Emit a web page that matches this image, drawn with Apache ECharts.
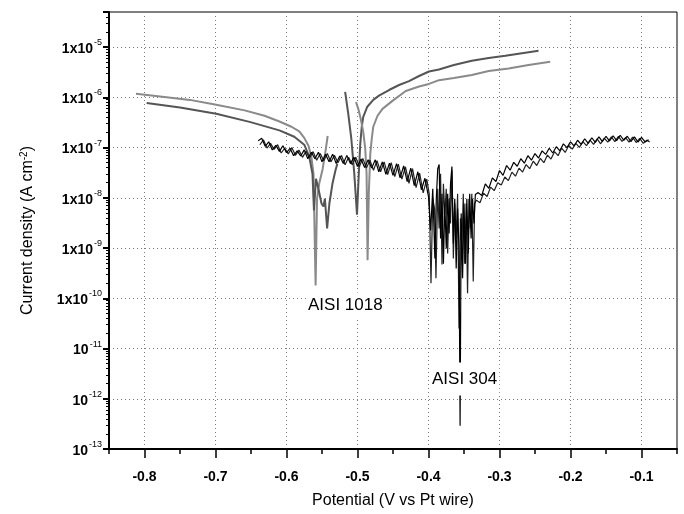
<!DOCTYPE html>
<html>
<head>
<meta charset="utf-8">
<script src="https://cdn.jsdelivr.net/npm/echarts@6/dist/echarts.min.js"></script>
<style>
  html, body { margin: 0; padding: 0; background: #fff; }
  #main { width: 684px; height: 514px; }
</style>
</head>
<body>
<div id="main"></div>
<script>
// tick positions on the potential axis
const xMajorTicks = [-0.8, -0.7, -0.6, -0.5, -0.4, -0.3, -0.2, -0.1];
const xMinorTicks = [-0.85, -0.75, -0.65, -0.55, -0.45, -0.35, -0.25, -0.15, -0.05];

// current density axis: decades shown, top of the frame
const yDecades = [-13, -12, -11, -10, -9, -8, -7, -6, -5];
const yTop = 5e-5;

const sampleNames = ['AISI 1018', 'AISI 304'];

// AISI 1018, cathodic branches  [V, A cm^-2]
const c1018UpperCath = [
  [-0.812, 1.18e-6], [-0.778, 1.04e-6], [-0.736, 8.9e-7], [-0.699, 7.1e-7], [-0.659, 5.5e-7],
  [-0.631, 4.3e-7], [-0.610, 3.3e-7], [-0.593, 2.6e-7], [-0.582, 2.1e-7], [-0.575, 1.56e-7],
  [-0.569, 1.09e-7], [-0.565, 6.6e-8], [-0.562, 3.0e-8], [-0.559, 1.8e-10], [-0.557, 9.6e-9],
  [-0.554, 1.9e-8], [-0.549, 3.8e-8], [-0.545, 8.6e-8], [-0.542, 1.7e-7]
];
const c1018LowerCath = [
  [-0.797, 7.7e-7], [-0.750, 6.3e-7], [-0.699, 4.7e-7], [-0.652, 3.25e-7], [-0.610, 2.2e-7],
  [-0.589, 1.64e-7], [-0.575, 1.14e-7], [-0.568, 6.6e-8], [-0.5634, 3.0e-8], [-0.5613, 5.6e-9],
  [-0.5585, 2.4e-8], [-0.555, 1.5e-8], [-0.5507, 7.7e-9], [-0.548, 6.7e-9], [-0.5459, 9.6e-9],
  [-0.5428, 2.45e-9], [-0.5396, 7.7e-9], [-0.5353, 1.9e-8], [-0.5311, 3.5e-8], [-0.5283, 4.8e-8]
];

// AISI 1018, anodic branches
const c1018UpperAnod = [
  [-0.5174, 1.28e-6], [-0.513, 4.7e-7], [-0.5087, 1.5e-7], [-0.5045, 3.0e-8], [-0.5007, 4.6e-9],
  [-0.4982, 3.0e-8], [-0.4961, 1.19e-7], [-0.494, 2.6e-7], [-0.4919, 4.1e-7], [-0.4862, 6.5e-7],
  [-0.4778, 8.9e-7], [-0.4697, 1.08e-6], [-0.4556, 1.4e-6], [-0.4414, 1.76e-6], [-0.4274, 2.1e-6],
  [-0.4133, 2.66e-6], [-0.3993, 3.27e-6], [-0.3853, 3.58e-6], [-0.3642, 4.4e-6], [-0.339, 5.35e-6],
  [-0.3152, 6.05e-6], [-0.2917, 6.7e-6], [-0.2731, 7.4e-6], [-0.245, 8.45e-6]
];
const c1018LowerAnod = [
  [-0.5021, 8.1e-7], [-0.4989, 5.9e-7], [-0.4954, 3.7e-7], [-0.4919, 2.06e-7], [-0.4891, 9.5e-8],
  [-0.4872, 3.0e-8], [-0.4858, 5.75e-10], [-0.4841, 1.2e-8], [-0.482, 7.5e-8], [-0.4799, 1.5e-7],
  [-0.4778, 2.6e-7], [-0.4718, 4.3e-7], [-0.4648, 5.9e-7], [-0.4508, 8.5e-7], [-0.432, 1.34e-6],
  [-0.4133, 1.64e-6], [-0.3993, 1.85e-6], [-0.3853, 2.2e-6], [-0.3642, 2.43e-6], [-0.339, 2.78e-6],
  [-0.3152, 3.34e-6], [-0.2871, 3.74e-6], [-0.2591, 4.4e-6], [-0.2286, 5.1e-6]
];

// AISI 304, first scan
const c304ScanA = [
  [-0.640, 1.36e-7], [-0.635, 1.53e-7], [-0.630, 1.06e-7], [-0.625, 1.30e-7], [-0.620, 9.0e-8],
  [-0.615, 1.11e-7], [-0.610, 8.4e-8], [-0.605, 1.09e-7], [-0.600, 7.9e-8], [-0.595, 9.7e-8],
  [-0.590, 6.9e-8], [-0.585, 8.6e-8], [-0.580, 6.8e-8], [-0.575, 9.0e-8], [-0.570, 6.0e-8],
  [-0.565, 8.1e-8], [-0.560, 6.0e-8], [-0.555, 8.1e-8], [-0.550, 5.2e-8], [-0.545, 7.4e-8],
  [-0.540, 5.2e-8], [-0.535, 7.4e-8], [-0.530, 4.8e-8], [-0.525, 6.8e-8], [-0.520, 4.8e-8],
  [-0.515, 7.0e-8], [-0.510, 4.8e-8], [-0.505, 6.4e-8], [-0.500, 4.2e-8], [-0.495, 5.9e-8],
  [-0.490, 4.0e-8], [-0.485, 5.7e-8], [-0.480, 3.9e-8], [-0.475, 5.7e-8], [-0.470, 3.3e-8],
  [-0.465, 5.2e-8], [-0.460, 2.95e-8], [-0.455, 4.9e-8], [-0.450, 2.8e-8], [-0.445, 4.8e-8],
  [-0.440, 2.5e-8], [-0.435, 4.3e-8], [-0.430, 2.1e-8], [-0.425, 3.9e-8], [-0.420, 1.75e-8],
  [-0.415, 3.3e-8], [-0.410, 1.45e-8], [-0.405, 2.45e-8], [-0.400, 1.06e-8],
  [-0.397, 2.24e-9], [-0.394, 1.52e-8], [-0.391, 6.2e-10], [-0.389, 9.6e-9], [-0.387, 3.8e-8],
  [-0.385, 4.6e-8], [-0.383, 1.55e-9], [-0.381, 1.2e-8], [-0.379, 4.9e-10], [-0.377, 7.7e-9],
  [-0.375, 9.8e-10], [-0.373, 1.2e-8], [-0.371, 1.95e-9], [-0.369, 1.9e-8], [-0.367, 4.2e-8],
  [-0.365, 1.23e-9], [-0.363, 9.6e-9], [-0.361, 3.9e-10], [-0.359, 6.1e-9], [-0.357, 9.8e-10],
  [-0.3555, 2.9e-13], [-0.354, 4.9e-9], [-0.352, 2.5e-10], [-0.350, 7.7e-9], [-0.348, 4.9e-10],
  [-0.346, 9.6e-9], [-0.344, 7.8e-10], [-0.342, 1.2e-8], [-0.340, 1.55e-9], [-0.338, 9.6e-9],
  [-0.336, 3.1e-9], [-0.334, 1.16e-8],
  [-0.330, 1.27e-8], [-0.325, 1.11e-8], [-0.320, 1.9e-8], [-0.315, 1.55e-8], [-0.310, 2.5e-8],
  [-0.305, 2.1e-8], [-0.300, 3.5e-8], [-0.295, 2.8e-8], [-0.290, 4.4e-8], [-0.285, 3.55e-8],
  [-0.280, 5.1e-8], [-0.275, 4.25e-8], [-0.270, 6.0e-8], [-0.265, 4.9e-8], [-0.260, 6.9e-8],
  [-0.255, 5.6e-8], [-0.250, 7.6e-8], [-0.245, 6.2e-8], [-0.240, 8.6e-8], [-0.235, 7.3e-8],
  [-0.230, 9.7e-8], [-0.225, 7.8e-8], [-0.220, 1.04e-7], [-0.215, 8.6e-8], [-0.210, 1.19e-7],
  [-0.205, 1.0e-7], [-0.200, 1.30e-7], [-0.195, 1.08e-7], [-0.190, 1.40e-7], [-0.185, 1.16e-7],
  [-0.180, 1.50e-7], [-0.175, 1.21e-7], [-0.170, 1.57e-7], [-0.165, 1.27e-7], [-0.160, 1.64e-7],
  [-0.155, 1.32e-7], [-0.150, 1.68e-7], [-0.145, 1.35e-7], [-0.140, 1.72e-7], [-0.135, 1.38e-7],
  [-0.130, 1.76e-7], [-0.125, 1.40e-7], [-0.120, 1.68e-7], [-0.115, 1.32e-7], [-0.110, 1.64e-7],
  [-0.105, 1.29e-7], [-0.100, 1.60e-7], [-0.095, 1.30e-7], [-0.090, 1.43e-7]
];

// AISI 304, second scan
const c304ScanB = [
  [-0.6375, 1.14e-7], [-0.6325, 1.43e-7], [-0.6275, 9.8e-8], [-0.6225, 1.21e-7], [-0.6175, 9.2e-8],
  [-0.6125, 1.14e-7], [-0.6075, 7.8e-8], [-0.6025, 9.7e-8], [-0.5975, 7.5e-8], [-0.5925, 1.0e-7],
  [-0.5875, 7.0e-8], [-0.5825, 8.9e-8], [-0.5775, 6.4e-8], [-0.5725, 8.4e-8], [-0.5675, 6.2e-8],
  [-0.5625, 8.3e-8], [-0.5575, 5.6e-8], [-0.5525, 7.6e-8], [-0.5475, 5.45e-8], [-0.5425, 7.6e-8],
  [-0.5375, 5.2e-8], [-0.5325, 7.0e-8], [-0.5275, 5.0e-8], [-0.5225, 7.0e-8], [-0.5175, 4.55e-8],
  [-0.5125, 6.4e-8], [-0.5075, 4.55e-8], [-0.5025, 6.4e-8], [-0.4975, 4.15e-8], [-0.4925, 6.1e-8],
  [-0.4875, 3.9e-8], [-0.4825, 5.6e-8], [-0.4775, 3.55e-8], [-0.4725, 5.5e-8], [-0.4675, 3.3e-8],
  [-0.4625, 5.2e-8], [-0.4575, 2.9e-8], [-0.4525, 5.0e-8], [-0.4475, 2.65e-8], [-0.4425, 4.7e-8],
  [-0.4375, 2.35e-8], [-0.4325, 4.15e-8], [-0.4275, 1.95e-8], [-0.4225, 3.8e-8], [-0.4175, 1.6e-8],
  [-0.4125, 3.1e-8], [-0.4075, 1.26e-8], [-0.4025, 2.35e-8],
  [-0.399, 1.2e-8], [-0.3965, 2.0e-10], [-0.394, 9.6e-9], [-0.3915, 6.1e-9], [-0.3895, 2.5e-10],
  [-0.387, 1.52e-8], [-0.385, 2.45e-9], [-0.383, 3.0e-8], [-0.381, 4.7e-10], [-0.379, 1.9e-8],
  [-0.377, 4.9e-9], [-0.375, 1.52e-8], [-0.373, 7.8e-10], [-0.371, 9.6e-9], [-0.369, 3.1e-9],
  [-0.367, 3.5e-8], [-0.365, 6.2e-10], [-0.363, 7.7e-9], [-0.361, 1.55e-9], [-0.359, 1.2e-8],
  [-0.357, 2.5e-11], [-0.355, 3.9e-9], [-0.353, 9.8e-10], [-0.351, 1.2e-8], [-0.349, 4.9e-10],
  [-0.347, 7.7e-9], [-0.345, 1.26e-10], [-0.343, 9.6e-9], [-0.341, 2.45e-9], [-0.339, 1.2e-8],
  [-0.337, 2.17e-10], [-0.335, 7.7e-9],
  [-0.3325, 9.0e-9], [-0.3275, 8.0e-9], [-0.3225, 1.24e-8], [-0.3175, 1.06e-8], [-0.3125, 1.63e-8],
  [-0.3075, 1.39e-8], [-0.3025, 2.0e-8], [-0.2975, 1.8e-8], [-0.2925, 2.6e-8], [-0.2875, 2.2e-8],
  [-0.2825, 3.25e-8], [-0.2775, 2.7e-8], [-0.2725, 3.9e-8], [-0.2675, 3.25e-8], [-0.2625, 4.6e-8],
  [-0.2575, 3.8e-8], [-0.2525, 5.35e-8], [-0.2475, 4.4e-8], [-0.2425, 6.1e-8], [-0.2375, 5.0e-8],
  [-0.2325, 7.1e-8], [-0.2275, 5.9e-8], [-0.2225, 8.3e-8], [-0.2175, 6.9e-8], [-0.2125, 9.8e-8],
  [-0.2075, 8.0e-8], [-0.2025, 1.10e-7], [-0.1975, 9.3e-8], [-0.1925, 1.21e-7], [-0.1875, 1.01e-7],
  [-0.1825, 1.31e-7], [-0.1775, 1.09e-7], [-0.1725, 1.41e-7], [-0.1675, 1.16e-7], [-0.1625, 1.49e-7],
  [-0.1575, 1.19e-7], [-0.1525, 1.54e-7], [-0.1475, 1.28e-7], [-0.1425, 1.63e-7], [-0.1375, 1.31e-7],
  [-0.1325, 1.67e-7], [-0.1275, 1.33e-7], [-0.1225, 1.58e-7], [-0.1175, 1.29e-7], [-0.1125, 1.61e-7],
  [-0.1075, 1.26e-7], [-0.1025, 1.52e-7], [-0.0975, 1.21e-7], [-0.0925, 1.40e-7], [-0.0885, 1.30e-7]
];

const FONT = '"Liberation Sans", Arial, Helvetica, sans-serif';

// minor tick positions (2..9 in every decade), in log10 units for the overlay axis
const yMinorTicks = [];
yDecades.forEach(d => {
  for (let k = 2; k <= 9; k++) {
    const t = d + Math.log10(k);
    if (t < Math.log10(yTop)) yMinorTicks.push(t);
  }
});

function yLabel(value) {
  const lg = Math.log10(value);
  const e = Math.round(lg);
  if (Math.abs(lg - e) > 1e-6) return '';
  return e >= -10 ? '{m|1x10}{s|' + e + '}' : '{m|10}{s|' + e + '}';
}

function lineSeries(data, color, width) {
  return {
    type: 'line',
    data: data,
    showSymbol: false,
    symbol: 'none',
    animation: false,
    lineStyle: { color: color, width: width },
    emphasis: { disabled: true }
  };
}

const chart = echarts.init(document.getElementById('main'), null, { renderer: 'canvas' });

chart.setOption({
  backgroundColor: '#fff',
  animation: false,
  grid: {
    left: 109, right: 7, top: 12, bottom: 63,
    show: true, borderColor: '#000', borderWidth: 1
  },
  xAxis: [{
    type: 'value',
    min: -0.85, max: -0.05,
    axisLine: { show: true, onZero: false, lineStyle: { color: '#000', width: 2 } },
    axisTick: { show: true, length: 9, customValues: xMajorTicks, lineStyle: { color: '#000', width: 1.5 } },
    axisLabel: {
      customValues: xMajorTicks, margin: 21, color: '#000',
      fontFamily: FONT, fontSize: 14, fontWeight: 'bold',
      formatter: v => v.toFixed(1)
    },
    splitLine: { show: true, lineStyle: { color: '#7a7a7a', type: [1, 3], width: 1 } },
    name: 'Potential (V vs Pt wire)',
    nameLocation: 'middle', nameGap: 44,
    nameTextStyle: { fontFamily: FONT, fontSize: 16, color: '#000' }
  }, {
    type: 'value',
    min: -0.85, max: -0.05,
    position: 'bottom',
    axisLine: { show: false },
    axisTick: { show: true, length: 5, customValues: xMinorTicks, lineStyle: { color: '#000', width: 1.5 } },
    axisLabel: { show: false },
    splitLine: { show: false }
  }],
  yAxis: [{
    type: 'log', logBase: 10,
    min: 1e-13, max: yTop, splitNumber: 9,
    axisLine: { show: true, lineStyle: { color: '#000', width: 2 } },
    axisTick: { show: true, length: 6, lineStyle: { color: '#000', width: 2 } },
    splitLine: { show: true, lineStyle: { color: '#7a7a7a', type: [1, 3], width: 1 } },
    axisLabel: {
      margin: 7, color: '#000', formatter: yLabel,
      rich: {
        m: { fontFamily: FONT, fontSize: 14, fontWeight: 'bold', color: '#000', lineHeight: 18, verticalAlign: 'bottom' },
        s: { fontFamily: FONT, fontSize: 9, color: '#000', lineHeight: 18, verticalAlign: 'top', padding: [0, 0, 0, 1] }
      }
    },
    name: 'Current density (A cm{sup|-2})',
    nameLocation: 'middle', nameGap: 72,
    nameTextStyle: {
      fontFamily: FONT, fontSize: 16, color: '#000',
      rich: { sup: { fontFamily: FONT, fontSize: 10, color: '#000', verticalAlign: 'top', lineHeight: 18 } }
    }
  }, {
    // overlay that only carries the minor ticks of the log axis
    type: 'value',
    min: -13, max: Math.log10(yTop),
    position: 'left',
    axisLine: { show: false },
    axisTick: { show: true, length: 3, customValues: yMinorTicks, lineStyle: { color: '#000', width: 1 } },
    axisLabel: { show: false },
    splitLine: { show: false }
  }],
  series: [
    lineSeries(c1018UpperCath, '#8a8a8a', 2),
    lineSeries(c1018LowerCath, '#555', 2),
    lineSeries(c1018UpperAnod, '#555', 2),
    lineSeries(c1018LowerAnod, '#8a8a8a', 2),
    lineSeries(c304ScanB, '#222', 1.2),
    lineSeries(c304ScanA, '#000', 1.2)
  ],
  graphic: [{
    type: 'text', x: 306, y: 305, z: 100,
    style: {
      text: sampleNames[0], font: '17px ' + FONT, fill: '#000',
      align: 'left', verticalAlign: 'middle',
      backgroundColor: '#fff', padding: [4, 2]
    }
  }, {
    type: 'text', x: 430, y: 379, z: 100,
    style: {
      text: sampleNames[1], font: '17px ' + FONT, fill: '#000',
      align: 'left', verticalAlign: 'middle',
      backgroundColor: '#fff', padding: [8, 2]
    }
  }]
});
</script>
</body>
</html>
